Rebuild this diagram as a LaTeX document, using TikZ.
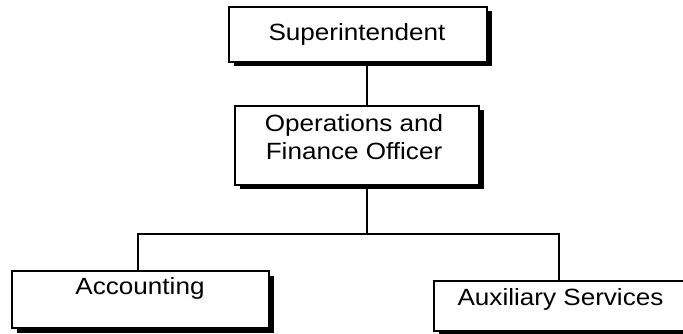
\documentclass[tikz,border=0pt]{standalone}
\usepackage{fontspec}
\setmainfont{Liberation Sans}
\usetikzlibrary{shadows}
\begin{document}
\begin{tikzpicture}[x=1pt,y=-1pt,
  box/.style={draw=black, line width=1.4pt, fill=white, inner sep=0pt,
    drop shadow={shadow xshift=4.5pt, shadow yshift=-4.5pt, opacity=1, fill=black}},
  lbl/.style={font=\fontsize{23.5}{28}\selectfont, align=center, inner sep=0pt, xscale=1.11, transform shape},
  conn/.style={line width=1.5pt}]
\useasboundingbox (0,0) rectangle (683,334);
\clip (0,0) rectangle (683,334);
\node[box, minimum width=258pt, minimum height=55pt] (sup) at (358,34.5) {};
\node[box, minimum width=244pt, minimum height=79pt] (ops) at (357,145.5) {};
\node[box, minimum width=257pt, minimum height=57pt] (acc) at (140.5,299.5) {};
\node[box, minimum width=253pt, minimum height=50pt] (aux) at (560.5,306) {};
\node[lbl] (tsup) at (357,34.5) {Superintendent};
\node[lbl] (tops) at (354,137.5) {Operations and\\Finance Officer};
\node[lbl] (tacc) at (140,288) {Accounting};
\node[lbl] (taux) at (560.5,299.5) {Auxiliary Services};
\coordinate (tx) at (367,0);
\coordinate (bus) at (0,234);
\draw[conn] (sup.south -| tx) -- (ops.north -| tx);
\draw[conn] (ops.south -| tx) -- (bus -| tx);
\coordinate (accx) at (138,0);
\coordinate (auxx) at (559,0);
\draw[conn] (acc.north -| accx) |- (bus -| tx) -| (aux.north -| auxx);
\end{tikzpicture}
\end{document}
